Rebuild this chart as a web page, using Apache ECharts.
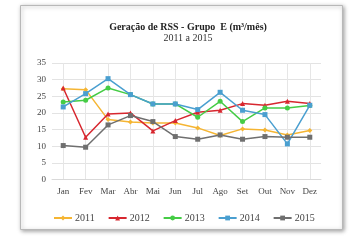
<!DOCTYPE html>
<html>
<head>
<meta charset="utf-8">
<script src="https://cdn.jsdelivr.net/npm/echarts@6/dist/echarts.min.js"></script>
<style>
  html, body { margin: 0; padding: 0; background: #fff; }
  #chart { width: 353px; height: 248px; }
</style>
</head>
<body>
<div id="chart"></div>
<script>
// monthly RSS generation, group E (m³/month)
const months = ["Jan", "Fev", "Mar", "Abr", "Mai", "Jun", "Jul", "Ago", "Set", "Out", "Nov", "Dez"];
const years = ["2011", "2012", "2013", "2014", "2015"];

const values2011 = [27.3, 27.0, 18.0, 17.3, 17.0, 17.0, 15.5, 13.2, 15.2, 14.9, 13.4, 14.7];
const values2012 = [27.5, 12.7, 19.7, 20.0, 14.6, 17.7, 20.2, 20.8, 22.8, 22.3, 23.5, 22.8];
const values2013 = [23.3, 23.8, 27.5, 25.5, 22.7, 22.7, 18.7, 23.5, 17.4, 21.5, 21.5, 22.2];
const values2014 = [21.8, 25.8, 30.3, 25.5, 22.7, 22.7, 21.0, 26.2, 20.8, 19.5, 10.7, 22.3];
const values2015 = [10.2, 9.7, 16.4, 19.2, 17.4, 12.9, 12.1, 13.4, 12.1, 12.9, 12.7, 12.7];

const seriesValues = [values2011, values2012, values2013, values2014, values2015];
const colors = ["#f5b533", "#d7272f", "#45cc45", "#4a9fd0", "#6f6f6f"];
const symbols = ["diamond", "triangle", "circle", "rect", "rect"];

const yTicks = [0, 5, 10, 15, 20, 25, 30, 35];

const serif = "'Liberation Serif', 'DejaVu Serif', serif";

const chart = echarts.init(document.getElementById("chart"));

chart.setOption({
  animation: false,
  backgroundColor: "#fff",
  graphic: [
    {
      type: "rect",
      z: -10,
      shape: { x: 20.5, y: 5.5, width: 322, height: 224 },
      style: {
        fill: "#fff",
        stroke: "#b8b8b8",
        lineWidth: 1,
        shadowBlur: 4,
        shadowOffsetX: 1,
        shadowOffsetY: 1,
        shadowColor: "rgba(0,0,0,0.35)",
      },
    },
  ],
  title: {
    text: "Geração de RSS - Grupo  E (m³/mês)",
    subtext: "2011 a 2015",
    left: 183,
    textAlign: "center",
    top: 17,
    itemGap: 1,
    textStyle: { fontFamily: serif, fontSize: 10, fontWeight: "bold", color: "#222" },
    subtextStyle: { fontFamily: serif, fontSize: 10, color: "#333" },
  },
  legend: {
    data: years,
    top: 208,
    left: 48,
    itemWidth: 18,
    itemHeight: 6,
    itemGap: 13,
    textStyle: { fontFamily: serif, fontSize: 10, color: "#444", padding: [0, 0, 0, -2] },
  },
  grid: { left: 52, right: 32, top: 63, bottom: 68.5 },
  xAxis: {
    type: "category",
    data: months,
    boundaryGap: true,
    axisLine: { show: true, lineStyle: { color: "#d9d9d9" } },
    axisTick: { show: false, alignWithLabel: true },
    axisLabel: { fontFamily: serif, fontSize: 9, color: "#444", margin: 8 },
    splitLine: { show: true, alignWithLabel: true, lineStyle: { color: "#e6e6e6", width: 1 } },
  },
  yAxis: {
    type: "value",
    min: yTicks[0],
    max: yTicks[yTicks.length - 1],
    interval: 5,
    axisLine: { show: false },
    axisTick: { show: false },
    axisLabel: { fontFamily: serif, fontSize: 9, color: "#444", margin: 6 },
    splitLine: { lineStyle: { color: "#e3e3e3", width: 1 } },
  },
  series: years.map((year, i) => ({
    name: year,
    type: "line",
    data: seriesValues[i],
    symbol: symbols[i],
    symbolSize: 5,
    lineStyle: { width: 1.5, color: colors[i] },
    itemStyle: { color: colors[i] },
  })),
});
</script>
</body>
</html>
